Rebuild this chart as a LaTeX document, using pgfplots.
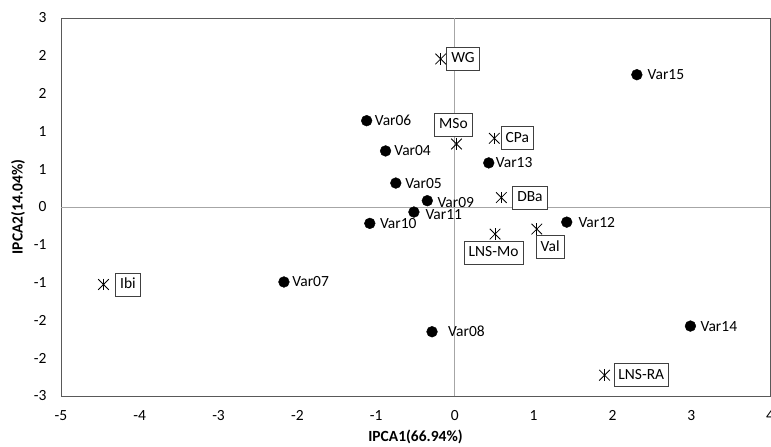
\documentclass[border=0pt]{standalone}
\usepackage{pgfplots}
\pgfplotsset{compat=1.18}
\usepackage{pgfplotstable}
\usepackage{fontspec}
\setmainfont{Carlito}
\definecolor{axisgray}{RGB}{89,89,89}
\definecolor{zerogray}{RGB}{166,166,166}
\definecolor{boxgray}{RGB}{64,64,64}

\pgfplotstableread{
x y
2.31 2.10
-1.12 1.37
-0.88 0.89
0.43 0.70
-0.75 0.38
-0.35 0.10
-0.52 -0.08
-1.08 -0.26
1.42 -0.24
-2.17 -1.19
-0.29 -1.98
2.99 -1.89
}\vars

\pgfplotstableread{
x y
-0.18 2.35
0.02 1.00
0.50 1.09
0.59 0.15
0.51 -0.43
1.04 -0.35
-4.46 -1.23
1.90 -2.67
}\stars

\begin{document}
\begin{tikzpicture}[font=\fontsize{15.5}{18}\selectfont,
  vl/.style={anchor=west, inner sep=0pt, text=black},
  bx/.style={draw=boxgray, fill=white, line width=0.8pt, text=black,
    text height=11pt, text depth=3pt, inner xsep=4.5pt, inner ysep=4.5pt}]
\begin{axis}[
  scale only axis, width=709pt, height=378pt,
  xmin=-5, xmax=4, ymin=-3, ymax=3,
  xtick={-5,-4,-3,-2,-1,0,1,2,3,4},
  xticklabels={-5,-4,-3,-2,-1,0,1,2,3,4},
  ytick={-3,-2.4,-1.8,-1.2,-0.6,0,0.6,1.2,1.8,2.4,3},
  yticklabels={-3,-2,-2,-1,-1,0,1,1,2,2,3},
  major tick length=0pt,
  axis line style={axisgray, line width=0.9pt},
  clip=false,
  xticklabel style={yshift=-11pt},
  yticklabel style={xshift=-11pt},
  xlabel={\textbf{IPCA1(66.94\%)}},
  ylabel={\textbf{IPCA2(14.04\%)}},
  xlabel style={at={(axis description cs:0.5,-0.1085)}, anchor=center},
  ylabel style={at={(axis description cs:-0.0606,0.5)}, anchor=center},
]
\coordinate (SW) at (rel axis cs:0,0);
\addplot[forget plot, zerogray, line width=0.9pt] coordinates {(-5,0) (4,0)};
\addplot[forget plot, zerogray, line width=0.9pt] coordinates {(0,-3) (0,3)};

\addplot[only marks, mark=*, mark size=5.4pt, black] table[x=x, y=y]{\vars};
\addplot[only marks, mark=x, mark size=7.5pt, black, line width=0.8pt] table[x=x, y=y]{\stars};
\addplot[only marks, mark=|, mark size=5.8pt, black, line width=0.8pt] table[x=x, y=y]{\stars};

% variable labels
\node[vl, xshift=10.6pt] at (axis cs:2.31,2.10) {Var15};
\node[vl, xshift=8pt] at (axis cs:-1.12,1.37) {Var06};
\node[vl, xshift=8.6pt] at (axis cs:-0.88,0.89) {Var04};
\node[vl, xshift=7pt] at (axis cs:0.43,0.70) {Var13};
\node[vl, xshift=9.3pt] at (axis cs:-0.75,0.38) {Var05};
\node[vl, xshift=10pt, yshift=-1.7pt] at (axis cs:-0.35,0.10) {Var09};
\node[vl, xshift=11.4pt, yshift=-2.7pt] at (axis cs:-0.52,-0.08) {Var11};
\node[vl, xshift=10pt] at (axis cs:-1.08,-0.26) {Var10};
\node[vl, xshift=11.6pt] at (axis cs:1.42,-0.24) {Var12};
\node[vl, xshift=8.3pt] at (axis cs:-2.17,-1.19) {Var07};
\node[vl, xshift=16pt] at (axis cs:-0.29,-1.98) {Var08};
\node[vl, xshift=10pt] at (axis cs:2.99,-1.89) {Var14};

% environment labels
\node[bx, anchor=west, xshift=5.7pt] at (axis cs:-0.18,2.35) {WG};
\node[bx, anchor=south, xshift=-3pt, yshift=7.3pt] at (axis cs:0.02,1.00) {MSo};
\node[bx, anchor=west, xshift=6.4pt] at (axis cs:0.50,1.09) {CPa};
\node[bx, anchor=west, xshift=11pt] at (axis cs:0.59,0.15) {DBa};
\node[bx, anchor=north, xshift=-1.5pt, yshift=-7pt] at (axis cs:0.51,-0.43) {LNS-Mo};
\node[bx, anchor=north, xshift=13.3pt, yshift=-6.4pt] at (axis cs:1.04,-0.35) {Val};
\node[bx, anchor=west, xshift=11.7pt] at (axis cs:-4.46,-1.23) {Ibi};
\node[bx, anchor=west, xshift=9pt] at (axis cs:1.90,-2.67) {LNS-RA};
\end{axis}
\pgfresetboundingbox
\path (SW) ++(-61pt,-51pt) rectangle ++(771pt,447pt);
\end{tikzpicture}
\end{document}
